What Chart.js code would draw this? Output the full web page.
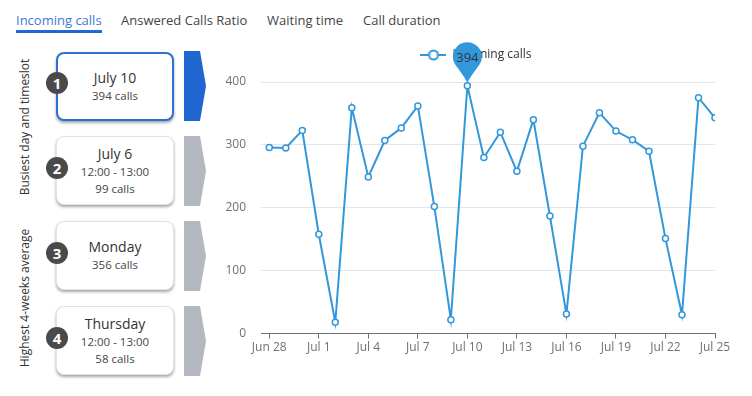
<!DOCTYPE html>
<html>
<head>
<meta charset="utf-8">
<script src="https://cdn.jsdelivr.net/npm/chart.js@4.4.1/dist/chart.umd.min.js"></script>
<style>
body{margin:0;width:752px;height:396px;background:#fff;font-family:"Open Sans",sans-serif;position:relative;overflow:hidden}
.tab{position:absolute;top:11px;font-size:13px;color:#444;white-space:nowrap;line-height:18px}
.tab.active{color:#3c78d8}
.underline{position:absolute;left:16px;top:30px;width:86px;height:3px;background:#2266d6}
.side{position:absolute;font-size:12px;color:#333;white-space:nowrap;transform:translate(-50%,-50%) rotate(-90deg)}
.card{position:absolute;left:56px;width:118px;height:69px;box-sizing:border-box;border:1px solid #e2e2e2;border-radius:8px;box-shadow:0 2px 3px rgba(0,0,0,.35);background:#fff;display:flex;flex-direction:column;justify-content:center;align-items:center;color:#333}
.card.sel{border:2px solid #2b6fd8}
.card .t{font-size:14px;line-height:18px}
.card .s{font-size:11.5px;line-height:17px;color:#444}
.num{position:absolute;left:46px;width:22px;height:22px;border-radius:50%;background:#4a4a4a;color:#fff;font-weight:bold;font-size:15px;line-height:22px;text-align:center}
.chev{position:absolute;left:184px;width:22px;height:70px;background:#b3b8c1;clip-path:polygon(0 0,16px 0,100% 50%,16px 100%,0 100%)}
.chev.sel{background:#1f66d1}
#wrap{position:absolute;left:221px;top:40px;width:523px;height:356px}
</style>
</head>
<body>
<div class="tab active" style="left:16px">Incoming calls</div>
<div class="tab" style="left:121px">Answered Calls Ratio</div>
<div class="tab" style="left:267px">Waiting time</div>
<div class="tab" style="left:363px">Call duration</div>
<div class="underline"></div>

<div class="side" style="left:24px;top:127px">Busiest day and timeslot</div>
<div class="side" style="left:24px;top:298px">Highest 4-weeks average</div>

<div class="card sel" style="top:52px"><div class="t">July 10</div><div class="s">394 calls</div></div>
<div class="card" style="top:136px"><div class="t">July 6</div><div class="s">12:00 - 13:00</div><div class="s">99 calls</div></div>
<div class="card" style="top:221px"><div class="t">Monday</div><div class="s">356 calls</div></div>
<div class="card" style="top:306px"><div class="t">Thursday</div><div class="s">12:00 - 13:00</div><div class="s">58 calls</div></div>

<div class="num" style="top:72px">1</div>
<div class="num" style="top:157px">2</div>
<div class="num" style="top:242px">3</div>
<div class="num" style="top:327px">4</div>

<div class="chev sel" style="top:51px"></div>
<div class="chev" style="top:136px"></div>
<div class="chev" style="top:221px"></div>
<div class="chev" style="top:306px"></div>

<div id="wrap"><canvas id="chart"></canvas></div>

<script>
var days = ['Jun 28','Jun 29','Jun 30','Jul 1','Jul 2','Jul 3','Jul 4','Jul 5','Jul 6','Jul 7',
    'Jul 8','Jul 9','Jul 10','Jul 11','Jul 12','Jul 13','Jul 14','Jul 15','Jul 16','Jul 17',
    'Jul 18','Jul 19','Jul 20','Jul 21','Jul 22','Jul 23','Jul 24','Jul 25']
var calls = [296,295,323,158,18,359,249,307,327,362,202,22,394,280,320,258,340,187,31,298,
    351,322,308,290,151,30,375,343]
var tickDays = ['Jun 28','Jul 1','Jul 4','Jul 7','Jul 10','Jul 13','Jul 16','Jul 19','Jul 22','Jul 25']
var yTicks = [0,100,200,300,400]

var blue = '#3398DB'

// legend icon: line with hollow circle
var icon = document.createElement('canvas')
icon.width = 26; icon.height = 12
var ic = icon.getContext('2d')
ic.strokeStyle = blue; ic.lineWidth = 2
ic.beginPath(); ic.moveTo(0, 6); ic.lineTo(26, 6); ic.stroke()
ic.fillStyle = '#fff'
ic.beginPath(); ic.arc(13, 6, 4.5, 0, Math.PI * 2); ic.fill(); ic.stroke()

const legendSpace = {
    id: 'legendSpace',
    beforeInit(chart) {
        const fit = chart.legend.fit
        chart.legend.fit = function () {
            fit.bind(chart.legend)()
            this.height += 11
        }
    },
    beforeDraw(chart) {
        // nudge legend a bit to the right, like the original
        chart.legend.left += 6
        chart.legend.right += 6
    }
}

const pin = {
    id: 'pin',
    afterDatasetsDraw(chart) {
        const i = calls.indexOf(Math.max(...calls))
        const pt = chart.getDatasetMeta(0).data[i]
        const ctx = chart.ctx
        const x = pt.x, tip = pt.y - 3
        const r = 14.5, cy = tip - 26
        const phi = Math.acos(r / (tip - cy))
        ctx.save()
        ctx.fillStyle = blue
        ctx.beginPath()
        ctx.moveTo(x, tip)
        ctx.quadraticCurveTo(x + 3, tip - 6, x + r * Math.sin(phi), cy + r * Math.cos(phi))
        ctx.arc(x, cy, r, Math.PI / 2 - phi, Math.PI / 2 + phi, true)
        ctx.quadraticCurveTo(x - 3, tip - 6, x, tip)
        ctx.closePath()
        ctx.fill()
        ctx.fillStyle = '#333'
        ctx.font = '13px "Open Sans", sans-serif'
        ctx.textAlign = 'center'
        ctx.textBaseline = 'middle'
        ctx.fillText(String(calls[i]), x, cy + 2)
        ctx.restore()
    }
}

new Chart(document.getElementById('chart'), {
    type: 'line',
    data: {
        datasets: [{
            label: 'Incoming calls',
            data: calls.map((v, i) => ({x: i, y: v})),
            borderColor: blue,
            backgroundColor: '#fff',
            borderWidth: 2,
            pointRadius: 3,
            pointBorderWidth: 1.5,
            pointBackgroundColor: '#fff',
            pointBorderColor: blue,
            tension: 0
        }]
    },
    options: {
        responsive: true,
        maintainAspectRatio: false,
        animation: false,
        layout: {padding: {left: 4, right: 29, top: 0, bottom: 39}},
        plugins: {
            tooltip: {enabled: false},
            legend: {
                position: 'top',
                labels: {
                    usePointStyle: true,
                    pointStyle: icon,
                    pointStyleWidth: 26,
                    padding: 9,
                    color: '#333',
                    font: {family: '"Open Sans", sans-serif', size: 12}
                }
            }
        },
        scales: {
            x: {
                type: 'linear',
                min: -0.5,
                max: 27,
                afterBuildTicks: (s) => { s.ticks = tickDays.map(d => ({value: days.indexOf(d)})) },
                afterFit: (s) => { s.paddingLeft = 0; s.paddingRight = 0 },
                ticks: {
                    callback: (v) => days[v],
                    color: '#6e7079',
                    padding: 2,
                    maxRotation: 0,
                    autoSkip: false,
                    font: {family: '"Open Sans", sans-serif', size: 12}
                },
                grid: {drawOnChartArea: false, drawTicks: true, tickLength: 5, color: '#6e7079'},
                border: {color: '#6e7079', width: 1}
            },
            y: {
                min: 0,
                max: 400,
                afterBuildTicks: (s) => { s.ticks = yTicks.map(v => ({value: v})) },
                afterFit: (s) => { s.width = 36 },
                ticks: {
                    color: '#6e7079',
                    padding: 15,
                    font: {family: '"Open Sans", sans-serif', size: 12}
                },
                grid: {color: '#e0e6f1', drawTicks: false},
                border: {display: false}
            }
        }
    },
    plugins: [legendSpace, pin]
})
</script>
</body>
</html>
